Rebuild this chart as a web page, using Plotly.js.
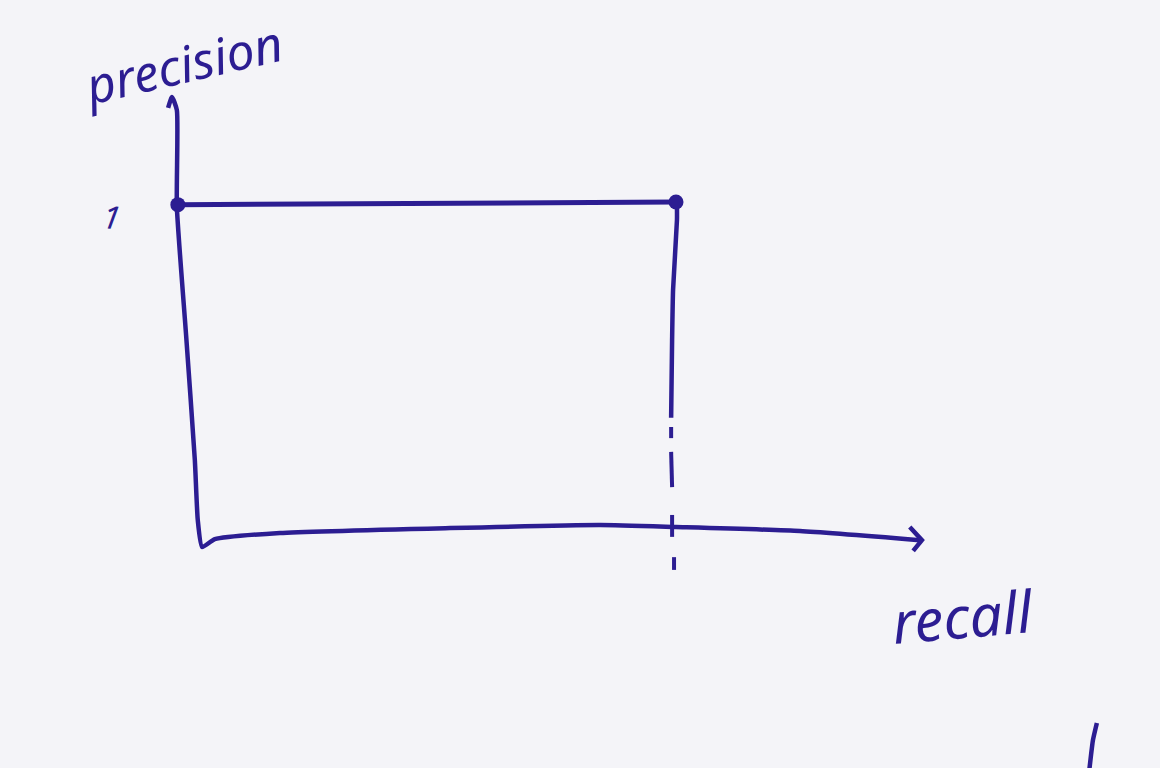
<!DOCTYPE html>
<html>
<head>
<meta charset="utf-8">
<script src="https://cdn.plot.ly/plotly-3.0.1.min.js"></script>
<style>
  html, body { margin: 0; padding: 0; background: #f4f4f8; }
  #sketch { width: 1160px; height: 768px; }
</style>
</head>
<body>
<div id="sketch"></div>
<script>
// ── PR curve: precision stays at 1 up to the recall point, then drops ──
const prRecall    = [-0.025, 1.0];
const prPrecision = [0.995, 1.003];

// hand-drawn axes (precision axis down to the corner, then recall axis to the arrow)
const axisRecall    = [-0.045, -0.037, -0.027, -0.027, -0.008, 0.010, 0.016, 0.025, 0.051, 0.185, 0.535, 0.844, 1.000, 1.255, 1.502];
const axisPrecision = [1.291, 1.324, 1.284, 0.988, 0.596, 0.214, 0.031, -0.052, -0.028, -0.009, 0.006, 0.015, 0.009, -0.003, -0.031];
const arrowRecall    = [1.481, 1.506, 1.488];
const arrowPrecision = [0.009, -0.031, -0.064];

// drop line under the last point: solid part, then dashes
const dropRecall     = [1.002, 1.002, 0.994, 0.992, 0.990];
const dropPrecision  = [0.994, 0.948, 0.734, 0.581, 0.343];
const dashRecall     = [0.990, 0.990, null, 0.990, 0.992, null, 0.992, 0.992, null, 0.996, 0.996];
const dashPrecision  = [0.315, 0.281, null, 0.239, 0.131, null, 0.046, -0.021, null, -0.083, -0.122];

// stray pen stroke at the bottom right
const strayRecall    = [1.866, 1.858, 1.850];
const strayPrecision = [-0.590, -0.642, -0.740];

const INK = '#2c1d92';
const pen = { color: INK, width: 4.5, shape: 'spline', smoothing: 0.5 };

const traces = [
  { type: 'scatter', mode: 'lines', x: axisRecall, y: axisPrecision, line: pen },
  { type: 'scatter', mode: 'lines', x: arrowRecall, y: arrowPrecision, line: { color: INK, width: 4.5 } },
  { type: 'scatter', mode: 'lines', x: dropRecall, y: dropPrecision, line: pen },
  { type: 'scatter', mode: 'lines', x: dashRecall, y: dashPrecision, line: { color: INK, width: 4 } },
  { type: 'scatter', mode: 'lines', x: strayRecall, y: strayPrecision, line: pen },
  {
    type: 'scatter', mode: 'lines+markers',
    x: prRecall, y: prPrecision,
    line: { color: INK, width: 5 },
    marker: { color: INK, size: 15 },
  },
];

const hidden = { visible: false, fixedrange: true, showgrid: false, zeroline: false };
const handFont = (size) => ({ family: "'Noto Sans', sans-serif", size: size, color: INK, style: 'italic' });

const layout = {
  width: 1160, height: 768,
  margin: { t: 0, r: 0, b: 0, l: 0 },
  paper_bgcolor: '#f4f4f8', plot_bgcolor: '#f4f4f8',
  showlegend: false,
  xaxis: { ...hidden, range: [-0.3909, 1.9959] },
  yaxis: { ...hidden, range: [-0.7278, 1.6208] },
  annotations: [
    { x: -0.015, y: 1.425, text: 'precision', showarrow: false, textangle: -13, font: handFont(50) },
    { x: -0.160, y: 0.960, text: '1', showarrow: false, textangle: 8, font: handFont(32) },
    { x: 1.591, y: -0.260, text: 'recall', showarrow: false, textangle: -5, font: handFont(58) },
  ],
};

Plotly.newPlot('sketch', traces, layout, { displayModeBar: false, staticPlot: true });
</script>
</body>
</html>
